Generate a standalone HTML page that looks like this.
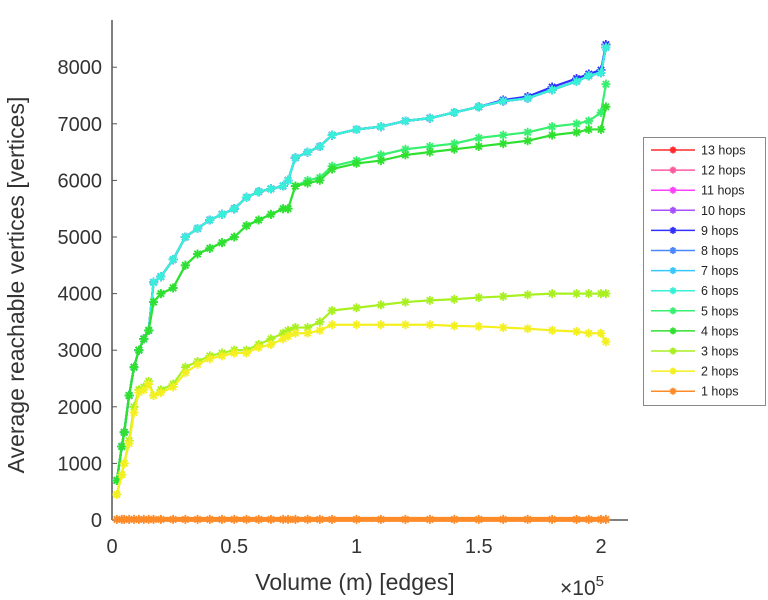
<!DOCTYPE html>
<html><head><meta charset="utf-8"><style>
body{margin:0;background:#fff;}
svg{display:block;font-family:"Liberation Sans",sans-serif;}
</style></head><body>
<svg id="chart" width="768" height="600" viewBox="0 0 768 600" xmlns="http://www.w3.org/2000/svg">
<g id="axes"></g>
<g id="series"></g>
<g id="legend"></g>
<text transform="translate(24,285) rotate(-90)" text-anchor="middle" font-size="23" fill="#333">Average reachable vertices [vertices]</text>
<text x="355" y="590" text-anchor="middle" font-size="23" fill="#333">Volume (m) [edges]</text>
<text x="560" y="595" font-size="21" fill="#333">×10<tspan font-size="15" dy="-9">5</tspan></text>
</svg>
<script>
const xs=[0.02,0.04,0.05,0.07,0.09,0.11,0.13,0.15,0.17,0.2,0.25,0.3,0.35,0.4,0.45,0.5,0.55,0.6,0.65,0.7,0.72,0.75,0.8,0.85,0.9,1.0,1.1,1.2,1.3,1.4,1.5,1.6,1.7,1.8,1.9,1.95,2.0,2.02];
const h6=[700,1300,1550,2200,2700,3000,3200,3350,4200,4300,4600,5000,5150,5300,5400,5500,5700,5800,5850,5900,6000,6400,6500,6600,6800,6900,6950,7050,7100,7200,7300,7400,7450,7600,7750,7850,7900,8350];
const h9=[700,1300,1550,2200,2700,3000,3200,3350,4200,4300,4600,5000,5150,5300,5400,5500,5700,5800,5850,5900,6000,6400,6500,6600,6800,6900,6950,7050,7100,7200,7300,7420,7480,7650,7800,7880,7950,8400];
const h5=[700,1300,1550,2200,2700,3000,3200,3350,3850,4000,4100,4500,4700,4800,4900,5000,5200,5300,5400,5500,5500,5900,6000,6050,6250,6350,6450,6550,6600,6650,6750,6800,6850,6950,7000,7050,7200,7700];
const h4=[700,1300,1550,2200,2700,3000,3200,3350,3850,4000,4100,4500,4700,4800,4900,5000,5200,5300,5400,5500,5500,5900,5950,6000,6200,6300,6350,6450,6500,6550,6600,6650,6700,6800,6850,6900,6900,7300];
const h3=[450,800,1000,1400,2000,2300,2350,2450,2200,2300,2400,2700,2800,2900,2950,3000,3000,3100,3200,3300,3350,3400,3400,3500,3700,3750,3800,3850,3880,3900,3930,3950,3980,4000,4000,4000,4000,4000];
const h2=[450,800,1000,1350,1900,2250,2300,2400,2200,2250,2350,2600,2750,2850,2900,2950,2950,3050,3100,3200,3250,3300,3300,3350,3450,3450,3450,3450,3450,3430,3420,3400,3380,3350,3330,3300,3300,3150];
const h1=[10,10,10,10,10,10,10,10,10,10,10,10,10,10,10,10,10,10,10,10,10,10,10,10,10,10,10,10,10,10,10,10,10,10,10,10,10,10];
const seriesNames=["13 hops","12 hops","11 hops","10 hops","9 hops","8 hops","7 hops","6 hops","5 hops","4 hops","3 hops","2 hops","1 hops"];
const seriesColors=["#ff2a2a","#ff5aa0","#ff40ff","#a850ff","#3030ff","#4a88ff","#38c8ff","#38f0d8","#38f070","#30e030","#a8f020","#f4f020","#ff8a28"];
const seriesData=[h6,h6,h6,h6,h9,h6,h6,h6,h5,h4,h3,h2,h1];
const xTicks=[0,0.5,1,1.5,2];
const xTickLabels=["0","0.5","1","1.5","2"];
const yTicks=[0,1000,2000,3000,4000,5000,6000,7000,8000];
const NS="http://www.w3.org/2000/svg";
const X=v=>112+v*244.5;
const Y=v=>520-v*0.0566;
function mk(tag,attrs,parent){const e=document.createElementNS(NS,tag);for(const k in attrs)e.setAttribute(k,attrs[k]);parent.appendChild(e);return e;}
const axes=document.getElementById('axes');
let a=mk('line',{x1:112,y1:20,x2:112,y2:520,stroke:'#555','stroke-width':1.5},axes);


a=mk('line',{x1:112,y1:520,x2:628,y2:520,stroke:'#555','stroke-width':1.5},axes);


xTicks.forEach((t,i)=>{
  mk('line',{x1:X(t),y1:520,x2:X(t),y2:515,stroke:'#555'},axes);
  const tx=mk('text',{x:X(t),y:553,'text-anchor':'middle','font-size':20,fill:'#333'},axes);
  tx.textContent=xTickLabels[i];
  
  
});
yTicks.forEach(t=>{
  mk('line',{x1:112,y1:Y(t),x2:117,y2:Y(t),stroke:'#555'},axes);
  const tx=mk('text',{x:102,y:Y(t)+7,'text-anchor':'end','font-size':20,fill:'#333'},axes);
  tx.textContent=String(t);
  
  
});
function star(g,cx,cy,c,r){
  mk('path',{d:`M${cx-r} ${cy}H${cx+r}M${cx} ${cy-r}V${cy+r}M${cx-r*0.7} ${cy-r*0.7}L${cx+r*0.7} ${cy+r*0.7}M${cx-r*0.7} ${cy+r*0.7}L${cx+r*0.7} ${cy-r*0.7}`,stroke:c,'stroke-width':1.8,fill:'none'},g);
}
const sg=document.getElementById('series');
seriesNames.forEach((n,i)=>{
  const g=mk('g',{},sg);
  
  
  const d=seriesData[i];
  const pts=xs.map((x,j)=>X(x)+','+Y(d[j])).join(' ');
  mk('polyline',{points:pts,fill:'none',stroke:seriesColors[i],'stroke-width':(n==="1 hops"?5:2.2)},g);
  xs.forEach((x,j)=>star(g,X(x),Y(d[j]),seriesColors[i],4.5));
});
const lg=document.getElementById('legend');
mk('rect',{x:643.5,y:137.5,width:122,height:268,fill:'#fff',stroke:'#888','stroke-width':1},lg);
seriesNames.forEach((n,i)=>{
  const y=150+i*20.1;
  const e=mk('g',{},lg);
  
  
  mk('line',{x1:651,y1:y,x2:695,y2:y,stroke:seriesColors[i],'stroke-width':1.5},e);
  star(e,673,y,seriesColors[i],3.5);
  const t=mk('text',{x:701,y:y+4.5,'font-size':12.5,fill:'#222'},e);
  t.textContent=n;
});
</script>
</body></html>
